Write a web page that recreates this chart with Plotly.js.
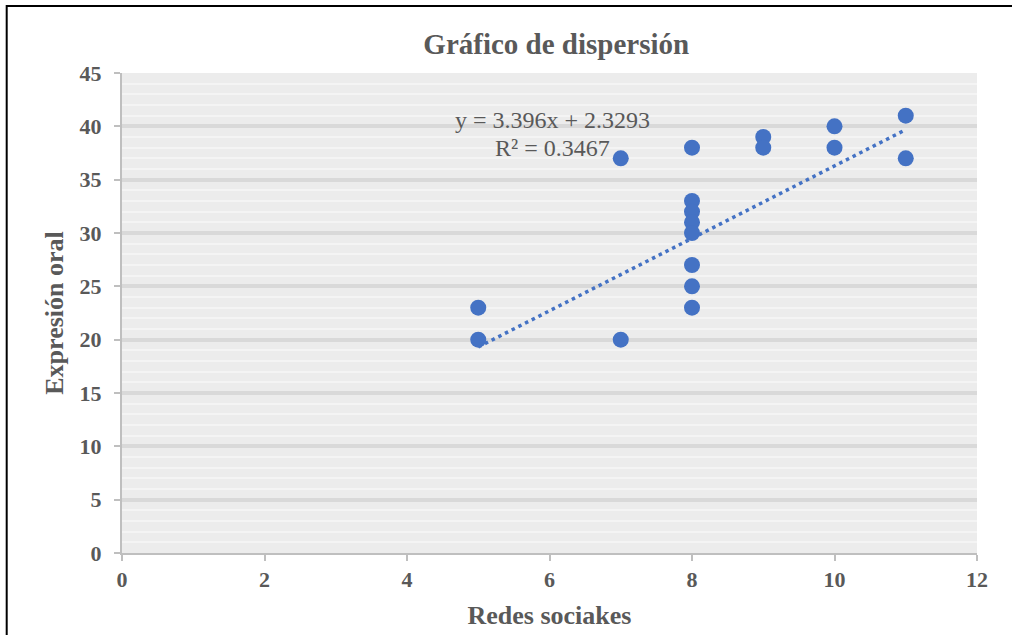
<!DOCTYPE html>
<html>
<head>
<meta charset="utf-8">
<script src="https://cdn.plot.ly/plotly-3.0.1.min.js"></script>
<style>
  html, body { margin: 0; padding: 0; background: #ffffff; }
  #chart { width: 1012px; height: 635px; }
</style>
</head>
<body>
<div id="chart"></div>
<script>
// ---- Data ----
const redesSociales = [5, 5, 7, 7, 8, 8, 8, 8, 8, 8, 8, 8, 9, 9, 10, 10, 11, 11];
const expresionOral = [23, 20, 37, 20, 38, 33, 32, 31, 30, 27, 25, 23, 39, 38, 40, 38, 41, 37];

// Trendline coefficients as printed on the chart
const slope = 3.396;
const intercept = 2.3293;
const rSquared = 0.3467;

const chartTitle = 'Gráfico de dispersión';
const xTitle = 'Redes sociakes';
const yTitle = 'Expresión oral';

// ---- Layout geometry ----
const W = 1012, H = 635;
const M = { l: 122, r: 35, t: 73, b: 82 };
const pw = W - M.l - M.r, ph = H - M.t - M.b;
const px = v => (v - M.l) / pw;
const py = v => (H - M.b - v) / ph;

const serif = '"Liberation Serif", "Times New Roman", serif';
const gray = '#595959';
const blue = '#4472c4';

const xMin = Math.min(...redesSociales);
const xMax = Math.max(...redesSociales);
const trendX = [xMin, xMax];
const trendY = trendX.map(x => slope * x + intercept);

const traces = [
  {
    x: trendX, y: trendY, type: 'scatter', mode: 'lines',
    line: { color: blue, width: 3.5, dash: '3.5px,4px' },
    hoverinfo: 'skip', showlegend: false
  },
  {
    x: redesSociales, y: expresionOral, type: 'scatter', mode: 'markers',
    marker: { color: blue, size: 16 },
    showlegend: false
  }
];

const tickFont = { family: serif, size: 22, color: gray, weight: 'bold' };

const layout = {
  width: W, height: H,
  margin: M,
  paper_bgcolor: '#ffffff',
  plot_bgcolor: '#ececec',
  showlegend: false,
  title: {
    text: '<b>' + chartTitle + '</b>',
    font: { family: serif, size: 29, color: gray },
    x: 514 / W, xanchor: 'center', xref: 'paper',
    y: 1 - 44 / H, yanchor: 'middle'
  },
  xaxis: {
    range: [0, 12], dtick: 2, tick0: 0,
    showgrid: false, zeroline: false,
    showline: true, linecolor: '#bfbfbf', linewidth: 2,
    ticks: 'outside', ticklen: 6, tickcolor: '#bfbfbf', tickwidth: 2,
    tickfont: tickFont,
    title: { text: '<b>' + xTitle + '</b>', font: { family: serif, size: 26, color: gray }, standoff: 14 },
    fixedrange: true
  },
  yaxis: {
    range: [0, 45], dtick: 5, tick0: 0,
    showgrid: true, gridcolor: '#d9d9d9', gridwidth: 4,
    minor: { dtick: 1, showgrid: true, gridcolor: '#f4f4f4', gridwidth: 2 },
    zeroline: false,
    showline: true, linecolor: '#bfbfbf', linewidth: 2,
    ticks: 'outside', ticklen: 6, tickcolor: '#bfbfbf', tickwidth: 2,
    tickfont: tickFont,
    ticklabelstandoff: 8,
    title: { text: '<b>' + yTitle + '</b>', font: { family: serif, size: 26, color: gray }, standoff: 8 },
    fixedrange: true
  },
  annotations: [
    {
      x: 6.04, y: 40.6, xref: 'x', yref: 'y',
      text: 'y = ' + slope + 'x + ' + intercept,
      showarrow: false, xanchor: 'center', yanchor: 'middle',
      font: { family: serif, size: 24, color: gray }
    },
    {
      x: 6.04, y: 37.95, xref: 'x', yref: 'y',
      text: 'R² = ' + rSquared,
      showarrow: false, xanchor: 'center', yanchor: 'middle',
      font: { family: serif, size: 24, color: gray }
    }
  ],
  shapes: [
    { type: 'line', xref: 'paper', yref: 'paper', x0: px(6.7), x1: px(W + 10), y0: py(6), y1: py(6), line: { color: '#000000', width: 2 } },
    { type: 'line', xref: 'paper', yref: 'paper', x0: px(6.7), x1: px(6.7), y0: py(5), y1: py(H + 10), line: { color: '#000000', width: 2 } }
  ]
};

Plotly.newPlot('chart', traces, layout, { displayModeBar: false, staticPlot: true });
</script>
</body>
</html>
